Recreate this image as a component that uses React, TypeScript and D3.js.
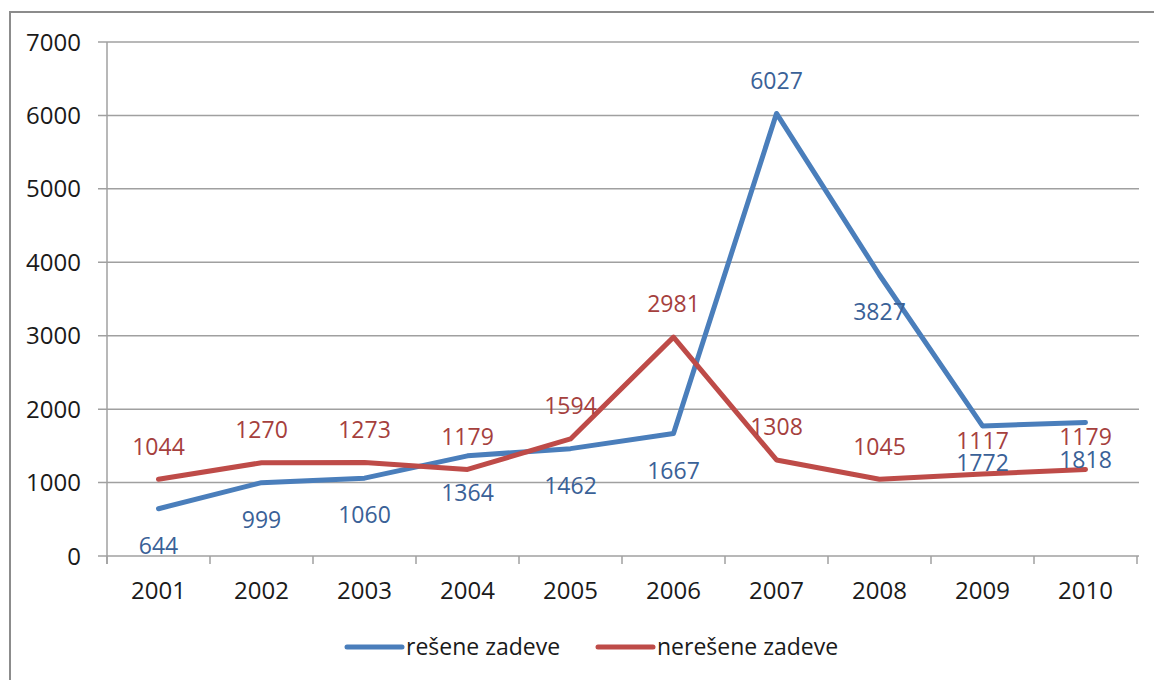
import React, { useEffect, useRef } from "react";
import * as d3 from "d3";

// chart data
const years = ["2001", "2002", "2003", "2004", "2005", "2006", "2007", "2008", "2009", "2010"];
const reseneZadeve = [644, 999, 1060, 1364, 1462, 1667, 6027, 3827, 1772, 1818];
const nereseneZadeve = [1044, 1270, 1273, 1179, 1594, 2981, 1308, 1045, 1117, 1179];
const yTicks = [0, 1000, 2000, 3000, 4000, 5000, 6000, 7000];
const seriesNames = ["rešene zadeve", "nerešene zadeve"];

const W = 1154, H = 680;
const FONT = "'Open Sans', 'DejaVu Sans', sans-serif";

export default function App() {
  const ref = useRef<SVGSVGElement | null>(null);

  useEffect(() => {
    const svg = d3.select(ref.current);
    svg.selectAll("*").remove();

    // plot area
    const margin = { top: 42, right: 16, bottom: 124, left: 107 };
    const w = 1137 - margin.left;
    const h = 556 - margin.top;

    // outer border of the chart
    svg.append("rect")
      .attr("x", 10).attr("y", 12)
      .attr("width", W + 20).attr("height", H + 20)
      .attr("fill", "#fff")
      .attr("stroke", "#8c8c8c")
      .attr("stroke-width", 2);

    const g = svg.append("g").attr("transform", `translate(${margin.left},${margin.top})`);

    const x = d3.scaleBand().domain(years).range([0, w]);
    const y = d3.scaleLinear().domain([0, 7000]).range([h, 0]);

    // gridlines
    g.selectAll(".grid").data(yTicks).join("line")
      .attr("class", "grid")
      .attr("x1", -9).attr("x2", w + 2)
      .attr("y1", d => y(d)).attr("y2", d => y(d))
      .attr("stroke", "#a0a0a0")
      .attr("stroke-width", 1.5);

    // y axis
    g.append("line")
      .attr("x1", 0).attr("x2", 0)
      .attr("y1", 0).attr("y2", h + 8)
      .attr("stroke", "#a0a0a0").attr("stroke-width", 1.5);

    g.selectAll(".ylab").data(yTicks).join("text")
      .attr("class", "ylab")
      .attr("x", -26)
      .attr("y", d => y(d))
      .attr("dy", "0.36em")
      .attr("text-anchor", "end")
      .attr("font-family", FONT)
      .attr("font-size", 24)
      .attr("fill", "#1a1a1a")
      .text(d => d);

    // x axis ticks
    const edges = years.map(d => x(d) as number).concat([w]);
    g.selectAll(".xtick").data(edges).join("line")
      .attr("class", "xtick")
      .attr("x1", d => d).attr("x2", d => d)
      .attr("y1", h).attr("y2", h + 8)
      .attr("stroke", "#a0a0a0").attr("stroke-width", 1.5);

    g.selectAll(".xlab").data(years).join("text")
      .attr("class", "xlab")
      .attr("x", d => (x(d) as number) + x.bandwidth() / 2)
      .attr("y", h + 34)
      .attr("dy", "0.36em")
      .attr("text-anchor", "middle")
      .attr("font-family", FONT)
      .attr("font-size", 24)
      .attr("fill", "#1a1a1a")
      .text(d => d);

    const series = [
      { name: seriesNames[0], values: reseneZadeve, color: "#4a7ebb", label: "#3a6197", below: true },
      { name: seriesNames[1], values: nereseneZadeve, color: "#be4b48", label: "#a5403d", below: false },
    ];

    const line = d3.line<number>()
      .x((d, i) => (x(years[i]) as number) + x.bandwidth() / 2)
      .y(d => y(d));

    series.forEach(s => {
      g.append("path")
        .datum(s.values)
        .attr("d", line)
        .attr("fill", "none")
        .attr("stroke", s.color)
        .attr("stroke-width", 5)
        .attr("stroke-linejoin", "round")
        .attr("stroke-linecap", "round");
    });

    // data labels (drawn after lines)
    series.forEach(s => {
      const max = d3.max(s.values) as number;
      g.selectAll(null).data(s.values).join("text")
        .attr("x", (d, i) => (x(years[i]) as number) + x.bandwidth() / 2)
        .attr("y", d => {
          const under = s.below && d !== max;
          return y(d) + (under ? 37 : -33);
        })
        .attr("dy", "0.36em")
        .attr("text-anchor", "middle")
        .attr("font-family", FONT)
        .attr("font-size", 23)
        .attr("fill", s.label)
        .text(d => d);
    });

    // legend
    const legend = svg.append("g").attr("transform", "translate(347,647)");
    const offsets = [0, 251];
    series.forEach((s, i) => {
      legend.append("line")
        .attr("x1", offsets[i]).attr("x2", offsets[i] + 55)
        .attr("y1", 0).attr("y2", 0)
        .attr("stroke", s.color)
        .attr("stroke-width", 5)
        .attr("stroke-linecap", "round");
      legend.append("text")
        .attr("x", offsets[i] + 59)
        .attr("y", 0)
        .attr("dy", "0.36em")
        .attr("font-family", FONT)
        .attr("font-size", 23)
        .attr("fill", "#1a1a1a")
        .text(s.name);
    });
  }, []);

  return (
    <svg ref={ref} width={W} height={H}
      style={{ position: "absolute", left: 0, top: 0, background: "#fff" }} />
  );
}
